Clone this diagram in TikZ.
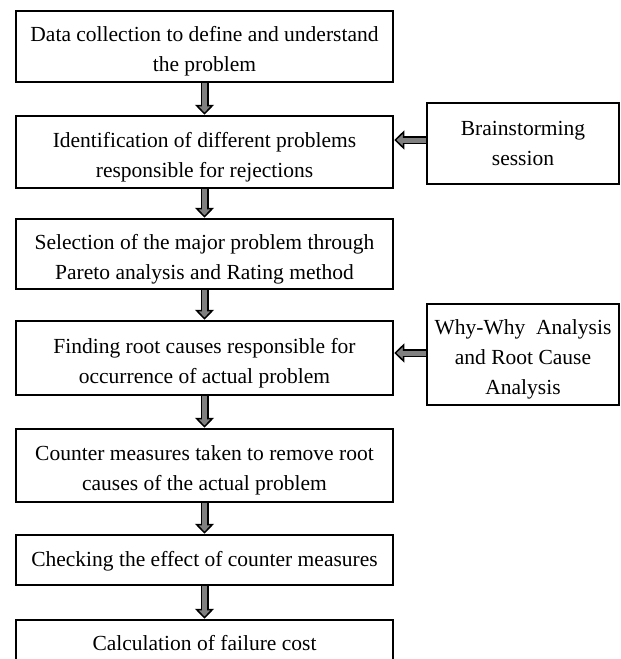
\documentclass[tikz,border=0pt]{standalone}
\usepackage{fontspec}
\setmainfont{Liberation Serif}
\usetikzlibrary{arrows.meta}
\newcommand{\tstr}{\rule{0pt}{25pt}}
\begin{document}
\begin{tikzpicture}[x=1pt,y=-1pt,
  box/.style={draw=black, line width=2.5pt, fill=white, inner sep=0pt, align=center,
    font=\fontsize{21.5}{30}\selectfont},
  mainbox/.style={box, minimum width=377pt},
  sidebox/.style={box, minimum width=192pt},
  blk/.style={draw=black, line width=8pt,
    -{Triangle[length=10pt, width=19pt, fill=gray, line width=1.5pt]},
    postaction={draw=gray, line width=5pt, -, shorten >=7.5pt}}
]
\clip (0,0) rectangle (621,659);
\fill[white] (0,0) rectangle (621,659);

\node[mainbox, minimum height=71pt] (b1) at (204.5,46.5) {\tstr Data collection to define and understand\\the problem};
\node[mainbox, minimum height=72pt] (b2) at (204.5,152) {\tstr Identification of different problems\\responsible for rejections};
\node[mainbox, minimum height=70pt] (b3) at (204.5,254) {\tstr Selection of the major problem through\\Pareto analysis and Rating method};
\node[mainbox, minimum height=74pt] (b4) at (204.5,358) {\tstr Finding root causes responsible for\\occurrence of actual problem};
\node[mainbox, minimum height=73pt] (b5) at (204.5,465.5) {\tstr Counter measures taken to remove root\\causes of the actual problem};
\node[mainbox, minimum height=50pt] (b6) at (204.5,560) {\rule{0pt}{18pt}Checking the effect of counter measures};
\node[mainbox, minimum height=46pt] (b7) at (204.5,643) {Calculation of failure cost};

\node[sidebox, minimum height=81pt] (bs) at (523,143.5) {Brainstorming\\session};
\node[sidebox, minimum height=101pt] (wy) at (523,354.5) {\tstr Why-Why\ \ Analysis\\and Root Cause\\Analysis};

\draw[blk] (b1.south) -- (b2.north);
\draw[blk] (b2.south) -- (b3.north);
\draw[blk] (b3.south) -- (b4.north);
\draw[blk] (b4.south) -- (b5.north);
\draw[blk] (b5.south) -- (b6.north);
\draw[blk] (b6.south) -- (b7.north);

\draw[blk] ([yshift=3.5pt]bs.west) -- ([yshift=12pt]b2.east);
\draw[blk] ([yshift=1.5pt]wy.west) -- ([yshift=5pt]b4.east);
\end{tikzpicture}
\end{document}
